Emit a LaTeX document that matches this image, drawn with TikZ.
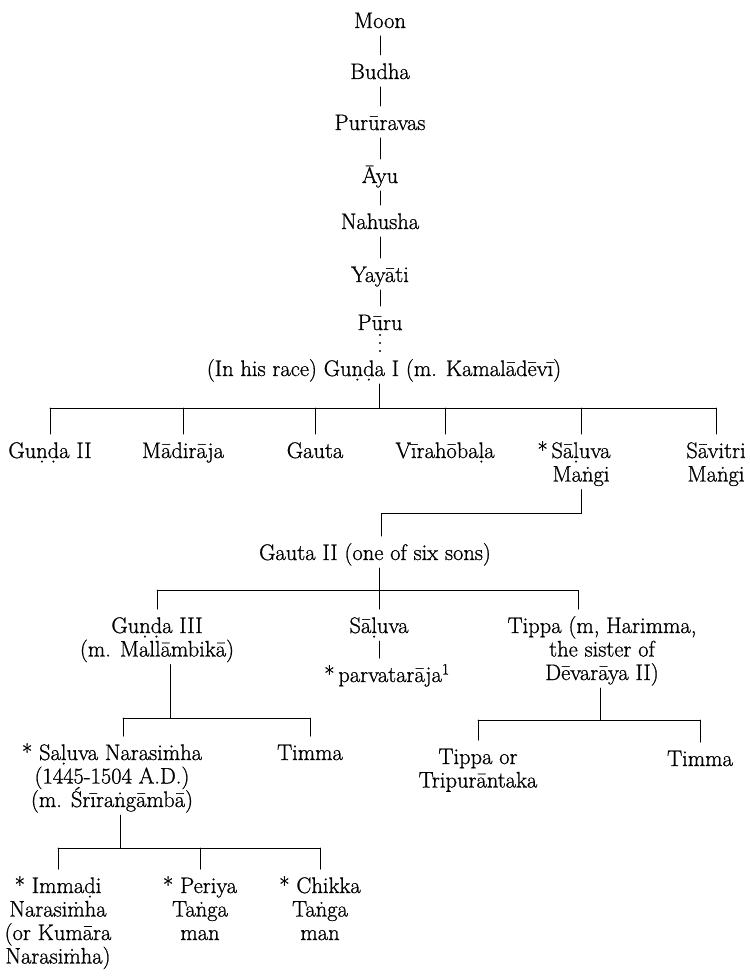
\documentclass[tikz,border=0pt]{standalone}
\usepackage{fontspec}
\setmainfont{Latin Modern Roman}[FakeBold=0.9]
\usetikzlibrary{calc}
\newcommand\mys{\rule[-8pt]{0pt}{32pt}}
\newcommand\mdot{\ooalign{m\cr\hidewidth ˙\hidewidth\cr}}
\tikzset{
  lab/.style={anchor=north, inner sep=0pt, outer sep=0pt, align=center,
    font={\fontsize{22.5}{23.5}\selectfont\lineskiplimit=-100pt}},
  con/.style={line width=1pt, line cap=round},
  dots/.style={line width=2.4pt, line cap=round, dash pattern=on 0pt off 8pt},
}
\begin{document}
\begin{tikzpicture}[x=1pt,y=-1pt]
\useasboundingbox (0,0) rectangle (749,976);
% main line
\node[lab] (moon)   at (380,4)   {\mys Moon};
\node[lab] (budha)  at (380,55)  {\mys Budha};
\node[lab] (pur)    at (380,106) {\mys Purūravas};
\node[lab] (ayu)    at (380,159) {\mys Āyu};
\node[lab] (nah)    at (380,205) {\mys Nahusha};
\node[lab] (yay)    at (380,258) {\mys Yayāti};
\node[lab] (puru)   at (380,306) {\mys Pūru};
\node[lab] (gunda1) at (384,352) {\mys (In his race) Guṇḍa I (m. Kamalādēvī)};
\draw[con] (moon.south) -- (moon.south |- budha.north);
\draw[con] (budha.south) -- (budha.south |- pur.north);
\draw[con] (pur.south) -- (pur.south |- ayu.north);
\draw[con] (ayu.south) -- (ayu.south |- nah.north);
\draw[con] (nah.south) -- (nah.south |- yay.north);
\draw[con] (yay.south) -- (yay.south |- puru.north);
\draw[dots] ($(puru.base)+(0,5)$) -- (puru.base |- gunda1.north);
% sons of Gunda I
\coordinate (j1) at (379,408);
\node[lab] (g2)    at (50,434)  {\mys Guṇḍa II};
\node[lab] (madi)  at (183,434) {\mys Mādirāja};
\node[lab] (gauta) at (315,434) {\mys Gauta};
\node[lab] (vira)  at (445,434) {\mys Vīrahōbaḷa};
\node[lab] (smang) at (581,434) {\mys\llap{*\,}Sāḷuva\\Maṅgi\mys};
\node[lab] (savi)  at (716,434) {\mys Sāvitri\\Maṅgi\mys};
\draw[con] (j1 |- gunda1.south) -- (j1);
\draw[con] (g2.north |- j1) -- (savi.north |- j1);
\foreach \n in {g2,madi,gauta,vira,smang,savi}
  \draw[con] (\n.north |- j1) -- (\n.north);
% Gauta II
\coordinate (j2) at (381,513);
\node[lab] (gauta2) at (375,536) {\mys Gauta II (one of six sons)};
\draw[con] (smang.south) -- (smang.south |- j2) -- (j2) -- (j2 |- gauta2.north);
% sons of Gauta II
\coordinate (j3) at (379,590);
\coordinate (j3r) at (578,590);
\node[lab] (gunda3) at (157,609) {\mys Guṇḍa III\\(m. Mallāmbikā)\mys};
\node[lab] (saluva) at (379,609) {\mys Sāḷuva};
\node[lab] (tippa)  at (602,609) {\mys Tippa (m, Harimma,\\the sister of\\Dēvarāya II)\mys};
\node[lab] (parv)   at (394,658) {\mys\llap{*\,}parvatarāja\textsuperscript{1}};
\draw[con] (j3 |- gauta2.south) -- (j3);
\draw[con] (gunda3.north |- j3) -- (j3r) -- (j3r |- tippa.north);
\draw[con] (gunda3.north |- j3) -- (gunda3.north);
\draw[con] (saluva.north |- j3) -- (saluva.north);
\draw[con] (saluva.south) -- (saluva.south |- parv.north);
% sons of Tippa
\coordinate (j4) at (600,720);
\node[lab] (tipor)  at (478,740) {\mys Tippa or\\Tripurāntaka\mys};
\node[lab] (timma2) at (700,742) {\mys Timma};
\draw[con] (j4 |- tippa.south) -- (j4);
\draw[con] (tipor.north |- j4) -- (timma2.north |- j4);
\draw[con] (tipor.north |- j4) -- (tipor.north);
\draw[con] (timma2.north |- j4) -- (timma2.north);
% sons of Gunda III
\coordinate (j5) at (170,718);
\coordinate (j5l) at (123,718);
\node[lab] (nara)   at (112,736) {\mys * Saḷuva Narasi\mdot ha\\(1445-1504 A.D.)\\(m. Śrīraṅgāmbā)\mys};
\node[lab] (timma1) at (310,736) {\mys Timma};
\draw[con] (j5 |- gunda3.south) -- (j5);
\draw[con] (j5l) -- (timma1.north |- j5);
\draw[con] (j5l) -- (j5l |- nara.north);
\draw[con] (timma1.north |- j5) -- (timma1.north);
% sons of Narasimha
\coordinate (j6) at (120,848);
\node[lab] (imm) at (58,869)  {\mys * Immaḍi\\Narasi\mdot ha\\(or Kumāra\\Narasi\mdot ha)\mys};
\node[lab] (per) at (200,869) {\mys * Periya\\Taṅga\\man\mys};
\node[lab] (chi) at (320,869) {\mys * Chikka\\Taṅga\\man\mys};
\draw[con] (j6 |- nara.south) -- (j6);
\draw[con] (imm.north |- j6) -- (chi.north |- j6);
\foreach \n in {imm,per,chi}
  \draw[con] (\n.north |- j6) -- (\n.north);
\end{tikzpicture}
\end{document}
